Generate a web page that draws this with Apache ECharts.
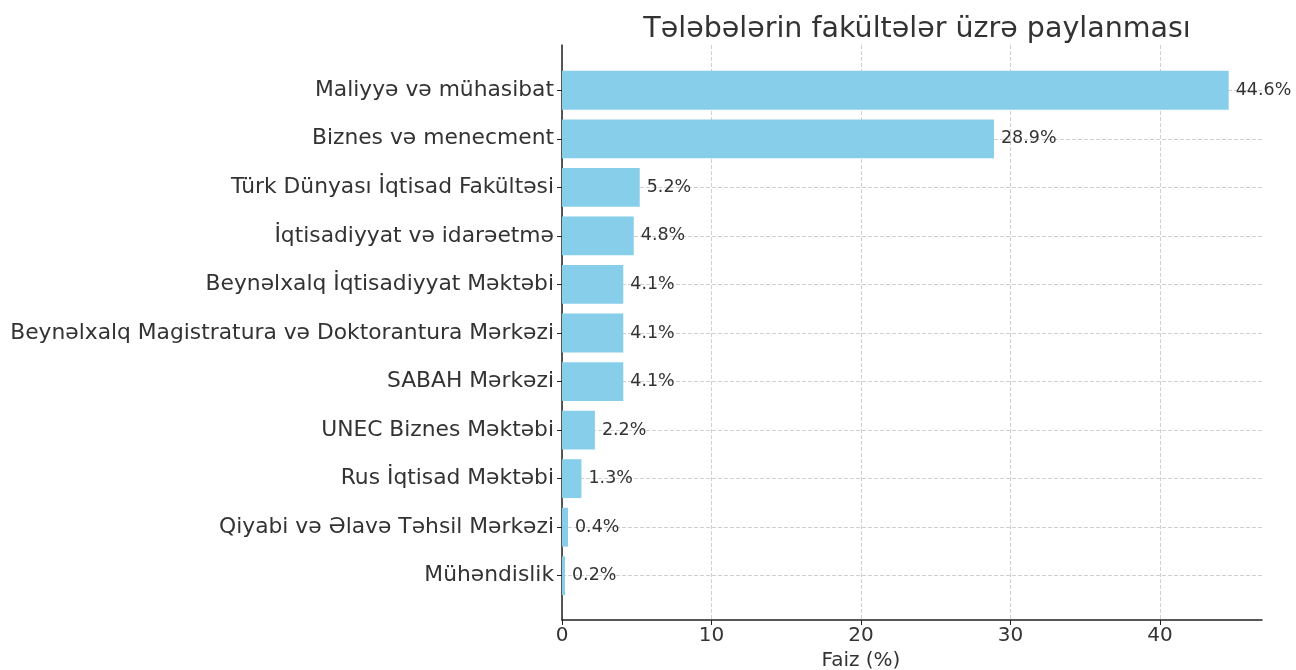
<!DOCTYPE html>
<html>
<head>
<meta charset="utf-8">
<script src="https://cdn.jsdelivr.net/npm/echarts@6/dist/echarts.min.js"></script>
<style>
html,body{margin:0;padding:0;background:#fff;}
#chart{width:1296px;height:670px;}
</style>
</head>
<body>
<div id="chart"></div>
<script>
// fakültələr (yuxarıdan aşağı)
const faculties = [
    'Maliyyə və mühasibat',
    'Biznes və menecment',
    'Türk Dünyası İqtisad Fakültəsi',
    'İqtisadiyyat və idarəetmə',
    'Beynəlxalq İqtisadiyyat Məktəbi',
    'Beynəlxalq Magistratura və Doktorantura Mərkəzi',
    'SABAH Mərkəzi',
    'UNEC Biznes Məktəbi',
    'Rus İqtisad Məktəbi',
    'Qiyabi və Əlavə Təhsil Mərkəzi',
    'Mühəndislik'
]
// faiz
const percents = [44.6, 28.9, 5.2, 4.8, 4.1, 4.1, 4.1, 2.2, 1.3, 0.4, 0.2]
const xTicks = [0, 10, 20, 30, 40]

const xMax = 46.83
const plotLeft = 562
const plotWidth = 700
const font = 'DejaVu Sans'
const textColor = '#333333'
// eni son tick-ə qədər olan grid (ticklər və şaquli xətlər üçün)
const tickGridRight = 1296 - plotLeft - plotWidth * xTicks[xTicks.length - 1] / xMax

const chart = echarts.init(document.getElementById('chart'))
const option = {
    animation:false,
    title:{
        text:'Tələbələrin fakültələr üzrə paylanması',
        left:plotLeft + plotWidth / 2,
        textAlign:'center',
        top:10,
        textStyle:{fontFamily:font, fontSize:28.5, fontWeight:'normal', color:textColor}
    },
    grid:[
        // bars
        {left:plotLeft, right:34, top:66, bottom:70, outerBoundsMode:'none'},
        // frame
        {left:plotLeft, right:34, top:45, bottom:50, outerBoundsMode:'none'},
        // x ticks
        {left:plotLeft, right:tickGridRight, top:45, bottom:50, outerBoundsMode:'none'}
    ],
    xAxis:[
        {gridIndex:0, type:'value', min:0, max:xMax, show:false},
        {
            gridIndex:1, type:'value', min:0, max:xMax,
            axisLine:{show:true, lineStyle:{color:'#222', width:1.5}},
            axisTick:{show:false}, axisLabel:{show:false}, splitLine:{show:false}
        },
        {
            gridIndex:2, type:'value', min:0, max:40, interval:10,
            name:'Faiz (%)', nameLocation:'middle', nameGap:31,
            nameTextStyle:{fontFamily:font, fontSize:20, color:textColor},
            axisLine:{show:false},
            axisTick:{show:true, length:5, lineStyle:{color:'#222'}},
            axisLabel:{fontFamily:font, fontSize:20, color:textColor, margin:6},
            splitLine:{show:true, lineStyle:{type:'dashed', color:'#d0d0d0'}}
        }
    ],
    yAxis:[
        {
            gridIndex:0, type:'category', data:faculties, inverse:true,
            axisLine:{show:false},
            axisTick:{show:true, alignWithLabel:true, length:5, lineStyle:{color:'#222'}},
            axisLabel:{fontFamily:font, fontSize:21.8, color:textColor, margin:8},
            splitLine:{show:true, alignWithLabel:true, lineStyle:{type:'dashed', color:'#d0d0d0'}}
        },
        {
            gridIndex:1, type:'value', min:0, max:1,
            axisLine:{show:true, lineStyle:{color:'#222', width:1.5}},
            axisTick:{show:false}, axisLabel:{show:false}, splitLine:{show:false}
        },
        {
            gridIndex:2, type:'value', min:0, max:1, show:false
        }
    ],
    series:[
        {
            type:'bar',
            xAxisIndex:0, yAxisIndex:0,
            data:percents,
            barCategoryGap:'20%',
            itemStyle:{color:'#87CEEB'},
            label:{
                show:true, position:'right', distance:7,
                fontFamily:font, fontSize:17.5, color:textColor,
                formatter:(p)=> p.value.toFixed(1) + '%'
            },
            z:3
        }
    ]
}
chart.setOption(option)
</script>
</body>
</html>
